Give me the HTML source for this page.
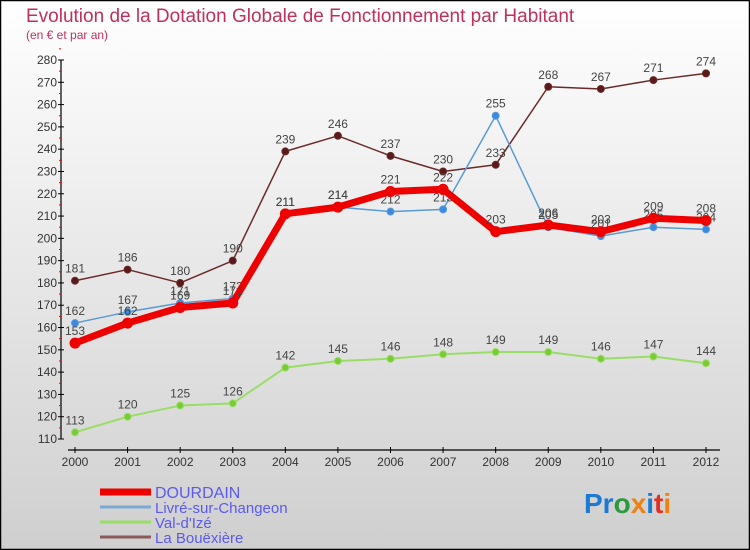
<!DOCTYPE html>
<html><head><meta charset="utf-8"><style>
body{margin:0;}
#wrap{width:750px;height:550px;position:relative;overflow:hidden;}
svg{display:block;font-family:"Liberation Sans","DejaVu Sans",sans-serif;}
</style></head><body>
<div id="wrap">
<svg id="chart" width="750" height="550">
<defs><linearGradient id="bg" x1="0" y1="0" x2="0" y2="1"><stop offset="0" stop-color="#ffffff"/><stop offset="1" stop-color="#cfcfcf"/></linearGradient></defs>
<rect x="0.5" y="0.5" width="749" height="549" fill="url(#bg)" stroke="#000" stroke-width="1.5"/>
<text x="26" y="22" font-size="19" fill="#c0305a">Evolution de la Dotation Globale de Fonctionnement par Habitant</text>
<text x="26" y="39" font-size="12" fill="#c0305a">(en € et par an)</text>
<g id="axes"></g><g id="series"></g>
<g id="legend"></g>
<text x="584" y="513" font-size="28" font-weight="bold"><tspan fill="#1a7ad4">Pr</tspan><tspan fill="#2a9a3a">o</tspan><tspan fill="#f08010">x</tspan><tspan fill="#1a7ad4">i</tspan><tspan fill="#e03020">t</tspan><tspan fill="#f08010">i</tspan></text>
</svg></div>
<script>
const years=["2000","2001","2002","2003","2004","2005","2006","2007","2008","2009","2010","2011","2012"];
const yTicks=[110,120,130,140,150,160,170,180,190,200,210,220,230,240,250,260,270,280];
const dourdain=[153,162,169,171,211,214,221,222,203,206,203,209,208];
const livre=[162,167,171,173,211,214,212,213,255,205,201,205,204];
const valdize=[113,120,125,126,142,145,146,148,149,149,146,147,144];
const bouexiere=[181,186,180,190,239,246,237,230,233,268,267,271,274];
const NS="http://www.w3.org/2000/svg";
function X(i){return 75+i*(706-75)/(years.length-1);}
function Y(v){return 439-(v-110)*(379/170);}
function mk(tag,attrs,parent){const e=document.createElementNS(NS,tag);for(const k in attrs)e.setAttribute(k,attrs[k]);parent.appendChild(e);return e;}
const axes=document.getElementById('axes');
let yl=mk('line',{x1:61,y1:Y(280),x2:61,y2:Y(110),stroke:'#000','stroke-width':1.2},axes);


yTicks.forEach(v=>{
 let t=mk('line',{x1:58,x2:64,y1:Y(v),y2:Y(v),stroke:'#000'},axes);
 
 
 let m=mk('line',{x1:59,x2:61,y1:Y(v+5),y2:Y(v+5),stroke:'#e00'},axes);
 
 
 let l=mk('text',{x:57,y:Y(v)+4,'font-size':12,fill:'#333','text-anchor':'end'},axes);l.textContent=v;
 
 
});
let xl=mk('line',{x1:68,y1:450,x2:720,y2:450,stroke:'#000','stroke-width':1.2},axes);


years.forEach((y,i)=>{
 let t=mk('line',{x1:X(i),x2:X(i),y1:447,y2:453,stroke:'#000'},axes);
 
 
 let l=mk('text',{x:X(i),y:466,'font-size':12,fill:'#333','text-anchor':'middle'},axes);l.textContent=y;
 
 
});
const ser=document.getElementById('series');
function draw(vals,color,width,r,dot,name){
 const g=mk('g',{},ser);
 
 
 let p=mk('polyline',{points:vals.map((v,i)=>X(i)+','+Y(v)).join(' '),fill:'none',stroke:color,'stroke-width':width,'stroke-linejoin':'round'},g);
 
 
 vals.forEach((v,i)=>{
  let c=mk('circle',{cx:X(i),cy:Y(v),r:r,fill:dot,stroke:color,'stroke-width':1},g);
  
  
  let t=mk('text',{x:X(i),y:Y(v)-8,'font-size':12,fill:'#444','text-anchor':'middle'},g);t.textContent=v;
  
  
 });
}
draw(valdize,'#99dd66',2,3.5,'#77cc33','val-d-ize');
draw(bouexiere,'#6b2a2a',1.5,3.5,'#5a1a1a','la-bouexiere');
draw(livre,'#5a9ad4',1.5,3.5,'#3a8ae4','livre-sur-changeon');
draw(dourdain,'#ee0000',7,5,'#ee0000','dourdain');
const lg=document.getElementById('legend');
[["DOURDAIN","#ee0000",7],["Livré-sur-Changeon","#7aaad4",3],["Val-d'Izé","#99dd66",3],["La Bouëxière","#8a5a5a",3]].forEach((d,i)=>{
 const y=492+i*15;
 let l=mk('line',{x1:100,x2:151,y1:y,y2:y,stroke:d[1],'stroke-width':d[2]},lg);
 
 
 let t=mk('text',{x:155,y:y+6,'font-size':i==0?16:15,fill:'#5a5aee'},lg);t.textContent=d[0];
 
 
});
</script></body></html>
